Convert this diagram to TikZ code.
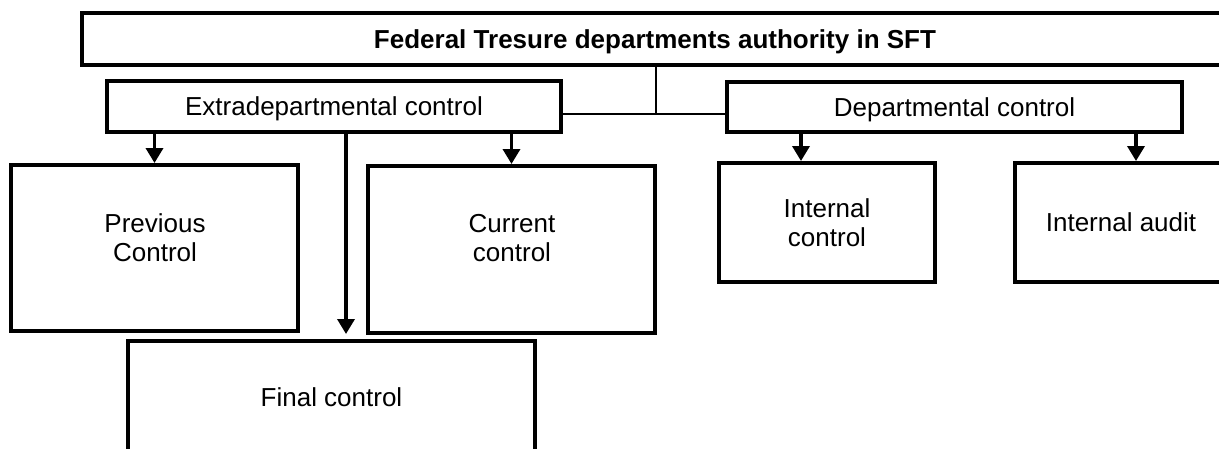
\documentclass[tikz,border=0pt]{standalone}
\usepackage{fontspec}
\setmainfont{Liberation Sans}
\usetikzlibrary{arrows.meta}
\begin{document}
\begin{tikzpicture}[x=1pt,y=-1pt,
  box/.style={draw, line width=4pt, rectangle, inner sep=0pt, align=center, font=\fontsize{26}{29}\selectfont},
  lowtext/.style={text depth=0pt},
  lbl/.style={inner sep=0pt, align=center, font=\fontsize{26}{29}\selectfont},
  thinline/.style={line width=1.5pt},
  arr/.style={line width=3.5pt, -{Triangle[width=17pt,length=15pt]}}]
\useasboundingbox (0,0) rectangle (1219,448);
\node[box, lowtext, minimum width=1146pt, minimum height=52pt, font=\bfseries\fontsize{26}{29}\selectfont] (top) at (655,39) {Federal Tresure departments authority in SFT};
\node[box, lowtext, minimum width=454pt, minimum height=51pt] (extra) at (334,106.5) {Extradepartmental control};
\node[box, lowtext, minimum width=455pt, minimum height=50pt] (dep) at (954.5,107) {Departmental control};
\node[box, minimum width=287pt, minimum height=166pt] (prev) at (154.5,248) {};
\node[lbl] (prevT) at (155,238) {Previous\\Control};
\node[box, minimum width=287pt, minimum height=167pt] (cur) at (511.5,249.5) {};
\node[lbl] (curT) at (512,238) {Current\\control};
\node[box, lowtext, minimum width=407pt, minimum height=112pt] (final) at (331.5,397) {Final control};
\node[box, minimum width=216pt, minimum height=119pt] (ic) at (827,222.5) {Internal\\control};
\node[box, minimum width=212pt, minimum height=119pt] (ia) at (1121,222.5) {Internal audit};
\coordinate (j) at (656,114);
\draw[thinline] (top.south -| j) -- (j);
\draw[thinline] (extra.east |- j) -- (dep.west |- j);
\coordinate (fa) at (346,334);
\coordinate (ica) at (801,0);
\coordinate (iaa) at (1136,0);
\draw[arr] (extra.south -| prev.north) -- (prev.north);
\draw[arr] (extra.south -| fa) -- (fa);
\draw[arr] (extra.south -| cur.north) -- (cur.north);
\draw[arr] (dep.south -| ica) -- (ic.north -| ica);
\draw[arr] (dep.south -| iaa) -- (ia.north -| iaa);
\end{tikzpicture}
\end{document}
